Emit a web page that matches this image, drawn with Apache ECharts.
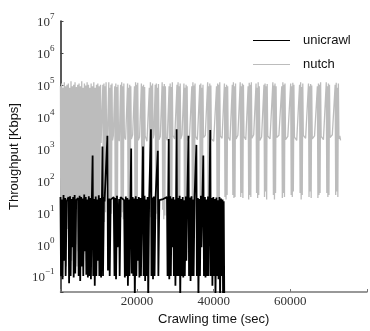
<!DOCTYPE html>
<html>
<head>
<meta charset="utf-8">
<script src="https://cdn.jsdelivr.net/npm/echarts@6/dist/echarts.min.js"></script>
<style>
  html, body { margin: 0; padding: 0; background: #fff; }
  #chart { width: 370px; height: 331px; }
</style>
</head>
<body>
<div id="chart"></div>
<script>
// unicrawl throughput (sec, Kbps)
const unicrawlTime = [
  0, 150, 400, 550, 800, 950, 1200, 1350, 1600, 2100, 2250, 2500, 2650, 2900, 3050, 3300, 3450, 3700, 3850, 4100,
  4600, 4750, 5000, 5150, 5400, 5550, 5800, 5950, 6200, 6350, 6600, 6750, 7000, 7150, 7400, 7550, 7800, 7950, 8200, 8390,
  8550, 8800, 8950, 9200, 9350, 9600, 9750, 10000, 10150, 10400, 10600, 10960, 11100, 11350, 11500, 12250, 12400, 12700, 12850, 13100,
  13900, 14100, 14350, 14500, 14750, 14900, 15300, 15450, 15700, 16600, 16800, 17050, 17200, 17450, 17600, 17850, 18000, 18450, 18600, 18850,
  19000, 19250, 19400, 19650, 19800, 20050, 20200, 20450, 20600, 20850, 21000, 21540, 21700, 21950, 22100, 22350, 22500, 22750, 22900, 23150,
  23610, 23750, 24000, 24150, 24400, 24550, 24800, 25410, 25550, 25800, 26800, 27800, 27950, 28250, 28400, 28650, 28800, 29050, 29200, 29450,
  29600, 29850, 30000, 30310, 30450, 30700, 30850, 31100, 31250, 31500, 31650, 31900, 32050, 32300, 32450, 32700, 32850, 33100, 33410, 33550,
  33800, 33950, 34200, 34350, 34600, 34750, 35000, 35470, 35600, 35850, 36000, 36250, 36400, 36650, 36800, 37050, 37280, 37450, 37700, 37850,
  38100, 38250, 38500, 38650, 39090, 39250, 39500, 39650, 39900, 40050, 40300, 40450, 40700, 40850, 41100, 41250, 41500, 41650, 41900, 42050,
  42300, 42450, 42600, 42750
];
const unicrawlKbps = [
  30, 0.1, 25, 0.08, 35, 0.3, 28, 0.1, 22, 30, 0.06, 32, 0.1, 26, 0.8, 30, 0.09, 35, 0.12, 24,
  28, 0.1, 33, 0.07, 30, 0.2, 27, 0.1, 36, 0.6, 30, 0.11, 25, 0.09, 32, 0.1, 28, 0.08, 30, 600,
  0.1, 26, 0.05, 31, 0.1, 25, 0.3, 34, 0.1, 28, 0.09, 1150, 0.1, 30, 22, 2500, 0.15, 27, 0.1, 25,
  30, 0.1, 28, 0.08, 33, 0.8, 26, 0.1, 30, 24, 0.09, 31, 0.1, 28, 0.05, 25, 0.1, 1000, 0.12, 30,
  0.1, 27, 0.02, 32, 0.1, 26, 0.3, 30, 0.09, 28, 0.1, 1150, 0.1, 33, 0.07, 25, 0.1, 30, 0.02, 27,
  4000, 0.1, 29, 0.08, 31, 0.1, 26, 850, 0.1, 24, 26, 30, 0.1, 2000, 0.08, 32, 0.1, 27, 0.8, 30,
  0.1, 25, 0.05, 4000, 0.1, 28, 0.1, 33, 0.02, 26, 0.1, 30, 0.09, 24, 0.1, 31, 0.3, 27, 2500, 0.1,
  29, 0.07, 32, 0.1, 25, 0.1, 30, 1300, 0.1, 28, 0.02, 26, 0.1, 33, 0.8, 27, 600, 0.1, 30, 0.09,
  25, 0.1, 31, 0.1, 3800, 0.1, 28, 0.05, 30, 0.1, 26, 0.02, 29, 0.1, 24, 0.08, 30, 0.02, 27, 0.1,
  25, 0.01, 22, 0.02
];

// nutch throughput (sec, Kbps)
const nutchTime = [
  0, 100, 300, 450, 650, 800, 1000, 1150, 1350, 1500, 1700, 1850, 2050, 2200, 2400, 2550, 2750, 2900, 3100, 3250,
  3450, 3600, 3800, 3950, 4150, 4300, 4500, 4650, 4850, 5000, 5200, 5350, 5550, 5700, 5900, 6050, 6250, 6400, 6600, 6750,
  6950, 7100, 7300, 7450, 7650, 7800, 8000, 8150, 8350, 8500, 8700, 8850, 9050, 9200, 9400, 9550, 9750, 9900, 10100, 10250,
  10450, 10600,
  11060, 11200, 11340, 11480, 11620, 11760, 11900, 12040, 12250,
  12610, 12750, 12890, 13030, 13170, 13310, 13450, 13590, 13800,
  14160, 14300, 14440, 14580, 14720, 14860, 15000, 15140, 15350,
  15700, 15840, 15980, 16120, 16260, 16400, 16540, 16680, 17000,
  17510, 17650, 17790, 17930, 18070, 18210, 18350, 18490, 18840,
  19320, 19460, 19600, 19740, 19880, 20020, 20160, 20300, 20640,
  21120, 21260, 21400, 21540, 21680, 21820, 21960, 22100, 22580,
  23190, 23330, 23470, 23610, 23750, 23890, 24030, 24170, 24380,
  24730, 24870, 25010, 25150, 25290, 25430, 25570, 25710, 26050,
  26540, 26680, 26820, 26960, 27100, 27240, 27380, 27520, 27860,
  28350, 28490, 28630, 28770, 28910, 29050, 29190, 29330, 29800,
  30410, 30550, 30690, 30830, 30970, 31110, 31250, 31390, 31730,
  32220, 32360, 32500, 32640, 32780, 32920, 33060, 33200, 33670,
  34280, 34420, 34560, 34700, 34840, 34980, 35120, 35260, 35730,
  36350, 36490, 36630, 36770, 36910, 37050, 37190, 37330, 37800,
  38410, 38550, 38690, 38830, 38970, 39110, 39250, 39390, 39990,
  40730, 40870, 41010, 41150, 41290, 41430, 41570, 41710, 42180,
  42790, 42930, 43070, 43210, 43350, 43490, 43630, 43770, 44240,
  44850, 44990, 45130, 45270, 45410, 45550, 45690, 45830, 46300,
  46910, 47050, 47190, 47330, 47470, 47610, 47750, 47890, 48360,
  48980, 49120, 49260, 49400, 49540, 49680, 49820, 49960, 50430,
  51040, 51180, 51320, 51460, 51600, 51740, 51880, 52020, 52490,
  53110, 53250, 53390, 53530, 53670, 53810, 53950, 54090, 54690,
  55430, 55570, 55710, 55850, 55990, 56130, 56270, 56410, 57010,
  57760, 57900, 58040, 58180, 58320, 58460, 58600, 58740, 59340,
  60080, 60220, 60360, 60500, 60640, 60780, 60920, 61060, 61660,
  62400, 62540, 62680, 62820, 62960, 63100, 63240, 63380, 63980,
  64730, 64870, 65010, 65150, 65290, 65430, 65570, 65710, 66310,
  67050, 67190, 67330, 67470, 67610, 67750, 67890, 68030, 68630,
  69370, 69510, 69650, 69790, 69930, 70070, 70210, 70350, 70950,
  71690, 71830, 71970, 72110, 72250, 72390, 72530, 72670, 72900, 73100
];
const nutchKbps = [
  9e4, 0.5, 1.1e5, 2, 8e4, 0.3, 1.2e5, 1, 9e4, 0.2, 1e5, 3, 1.1e5, 0.5, 8e4, 0.8, 1.3e5, 0.3, 9e4, 2,
  1e5, 0.4, 1.2e5, 1, 8.5e4, 0.2, 1e5, 0.6, 1.1e5, 3, 9e4, 0.4, 1.3e5, 1, 8e4, 0.5, 1.1e5, 2, 9.5e4, 0.3,
  1.2e5, 1, 1e5, 0.6, 8e4, 2, 1.1e5, 0.4, 9e4, 1, 1.2e5, 3, 8e4, 0.5, 1e5, 2, 1.1e5, 0.8, 9e4, 5,
  1e5, 1500,
  1e5, 8, 1.1e5, 5, 9e4, 10, 1.2e5, 2000, 2500,
  1.2e5, 10, 8e4, 6, 1e5, 9, 1.1e5, 1800, 2600,
  9e4, 12, 1.1e5, 4, 8.5e4, 8, 1e5, 2200, 1700,
  1e5, 7, 1.2e5, 10, 9e4, 6, 1.1e5, 2400, 1900,
  1.1e5, 9, 8e4, 5, 1e5, 11, 9e4, 2000, 2700,
  9e4, 6, 1.2e5, 12, 1e5, 7, 1.15e5, 1800, 2300,
  1.1e5, 8, 9e4, 5, 1e5, 10, 8.5e4, 2500, 1700,
  8e4, 10, 1.2e5, 7, 9.5e4, 6, 1.1e5, 2100, 2800,
  1e5, 6, 1.1e5, 9, 8e4, 12, 1.05e5, 1900, 2400,
  1.2e5, 12, 9e4, 6, 1.05e5, 8, 9e4, 2300, 1800,
  9e4, 7, 1.1e5, 10, 8.5e4, 5, 1.2e5, 2600, 2000,
  1e5, 8, 1.2e5, 5, 9e4, 10, 1.1e5, 2000, 2700,
  1.1e5, 10, 8e4, 6, 1e5, 7, 9e4, 1800, 2300,
  9e4, 7, 1.2e5, 11, 9.5e4, 6, 1.1e5, 2400, 1900,
  1e5, 9, 1.1e5, 6, 8e4, 10, 1e5, 2200, 2600,
  1.2e5, 8, 9e4, 12, 1.1e5, 6, 9.5e4, 2000, 1700,
  9e4, 10, 1.1e5, 7, 1e5, 9, 1.2e5, 2500, 2100,
  1.1e5, 30, 8.5e4, 25, 1e5, 35, 9e4, 2300, 1800,
  1e5, 35, 1.2e5, 28, 9e4, 30, 1.1e5, 2000, 2600,
  1.2e5, 30, 9e4, 40, 1.1e5, 28, 1e5, 2400, 1900,
  9e4, 25, 1.15e5, 35, 1e5, 30, 1.2e5, 2100, 2700,
  1.1e5, 40, 8e4, 28, 1.2e5, 35, 9e4, 1800, 2300,
  1e5, 30, 1.1e5, 45, 9e4, 25, 1.05e5, 2500, 2000,
  1.2e5, 35, 9.5e4, 25, 1.1e5, 40, 9e4, 2200, 2600,
  9e4, 28, 1.2e5, 40, 1e5, 30, 1.1e5, 1900, 2400,
  1.1e5, 35, 9e4, 30, 1.15e5, 45, 1e5, 2300, 1800,
  1e5, 40, 1.2e5, 25, 8.5e4, 35, 1.1e5, 2600, 2100,
  1.1e5, 30, 9e4, 45, 1.05e5, 28, 9.5e4, 2000, 2500,
  9e4, 28, 1.1e5, 35, 1e5, 40, 1.2e5, 2400, 1900,
  1.2e5, 40, 9e4, 30, 1.1e5, 35, 1e5, 2200, 2700,
  1e5, 35, 1.15e5, 45, 8e4, 30, 1.1e5, 2000, 2500, 1800
];

const xTicks = [20000, 40000, 60000];
const seriesNames = ['unicrawl', 'nutch'];

const zip = (xs, ys) => xs.map((x, i) => [x, ys[i]]);

const chart = echarts.init(document.getElementById('chart'), null, { renderer: 'canvas' });

const serif = 'Liberation Serif';
const sans = 'Liberation Sans';

const option = {
    animation: false,
    backgroundColor: '#fff',
    grid: {
        left: 58,
        right: 0,
        top: 21,
        bottom: 36
    },
    legend: {
        data: seriesNames.map((n) => ({ name: n, icon: 'rect' })),
        orient: 'vertical',
        left: 253,
        top: 34,
        padding: 0,
        itemWidth: 37,
        itemHeight: 1,
        itemGap: 11,
        textStyle: {
            fontFamily: sans,
            fontSize: 13,
            color: '#111',
            padding: [0, 0, 0, 8]
        }
    },
    xAxis: {
        type: 'value',
        min: 0,
        max: 80000,
        interval: 20000,
        name: 'Crawling time (sec)',
        nameLocation: 'middle',
        nameGap: 21,
        nameTextStyle: { fontFamily: sans, fontSize: 13, color: '#111' },
        axisLine: { show: true, lineStyle: { color: '#777', width: 1.5 } },
        axisTick: { show: true, inside: true, length: 3, lineStyle: { color: '#777' } },
        axisLabel: {
            margin: 3,
            fontFamily: serif,
            fontSize: 13,
            color: '#333',
            formatter: (v) => xTicks.includes(v) ? String(v) : ''
        },
        splitLine: { show: false }
    },
    yAxis: {
        type: 'log',
        logBase: 10,
        min: Math.pow(10, -1.5),
        max: 1e7,
        splitNumber: 9,
        name: 'Throughput [Kbps]',
        nameLocation: 'middle',
        nameGap: 37,
        nameTextStyle: { fontFamily: sans, fontSize: 13, color: '#111' },
        axisLine: { show: true, lineStyle: { color: '#222', width: 1.5 } },
        axisTick: { show: true, inside: true, length: 3, lineStyle: { color: '#444' } },
        axisLabel: {
            margin: 6,
            formatter: (v) => {
                const e = Math.log10(v);
                const r = Math.round(e);
                if (Math.abs(e - r) > 1e-6) return '';
                const s = r < 0 ? '\u2212' + (-r) : String(r);
                return '{b|10}{e|' + s + '}';
            },
            rich: {
                b: { fontFamily: serif, fontSize: 13, color: '#333', verticalAlign: 'bottom' },
                e: { fontFamily: serif, fontSize: 9, color: '#333', verticalAlign: 'bottom', padding: [0, 0, 8, 0] }
            }
        },
        splitLine: { show: false }
    },
    series: [
        {
            name: 'unicrawl',
            type: 'line',
            z: 3,
            symbol: 'none',
            showSymbol: false,
            clip: true,
            lineStyle: { color: '#000', width: 1.8 },
            itemStyle: { color: '#000' },
            data: zip(unicrawlTime, unicrawlKbps)
        },
        {
            name: 'nutch',
            type: 'line',
            z: 2,
            symbol: 'none',
            showSymbol: false,
            clip: true,
            lineStyle: { color: '#bcbcbc', width: 1.3 },
            itemStyle: { color: '#bcbcbc' },
            data: zip(nutchTime, nutchKbps)
        }
    ]
};

chart.setOption(option);
</script>
</body>
</html>
